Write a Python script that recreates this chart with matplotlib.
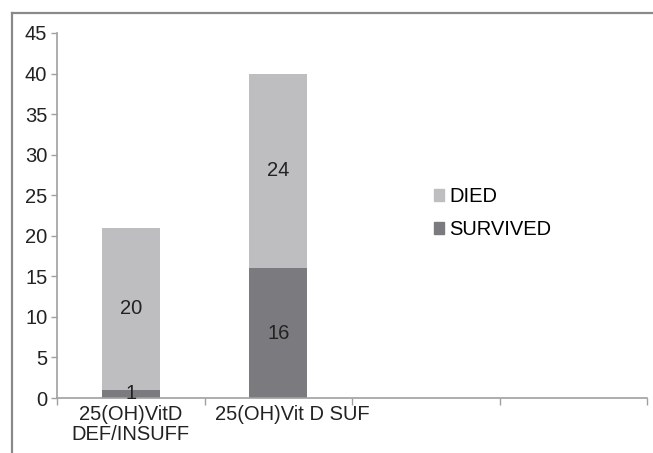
import matplotlib
matplotlib.use('Agg')
import matplotlib.pyplot as plt
import matplotlib.transforms as mtransforms
from matplotlib.patches import Patch
from matplotlib.lines import Line2D
import numpy as np

plt.rcParams['font.family'] = ['Liberation Sans', 'DejaVu Sans']

# Data
categories = ['25(OH)VitD\nDEF/INSUFF', '25(OH)Vit D SUF', '', '']
survived = [1, 16]
died = [20, 24]
y_ticks = [0, 5, 10, 15, 20, 25, 30, 35, 40, 45]

c_died = '#bebec1'
c_surv = '#7b7b7f'
axis_col = '#a0a0a0'
fs = 14.5

fig = plt.figure(figsize=(6.53, 4.53), dpi=100)
ax = fig.add_axes([57/653, 1 - 398/453, 590/653, 365/453])

x = np.arange(len(survived)) + 0.5
w = 0.39
ax.bar(x, survived, w, color=c_surv, label='SURVIVED', edgecolor='none')
ax.bar(x, died, w, bottom=survived, color=c_died, label='DIED', edgecolor='none')

# segment labels
for xi, s, d in zip(x, survived, died):
    ax.text(xi, s / 2, str(s), ha='center', va='center', fontsize=fs, color='#222222')
    ax.text(xi, s + d / 2, str(d), ha='center', va='center', fontsize=fs, color='#222222')

ax.set_xlim(0, len(categories))
ax.set_ylim(0, 45)
ax.set_yticks(y_ticks)
ax.tick_params(axis='y', labelsize=fs, colors=axis_col, labelcolor='#222222',
               length=4, width=1, pad=3)

# category boundaries as ticks, labels at centres
ax.set_xticks(np.arange(len(categories) + 1))
ax.set_xticklabels([])
ax.set_xticks(np.arange(len(categories)) + 0.5, minor=True)
ax.set_xticklabels(categories, minor=True, linespacing=1.05)
ax.tick_params(axis='x', which='major', length=5, width=1, colors=axis_col)
ax.tick_params(axis='x', which='minor', length=0, labelsize=fs, labelcolor='#222222', pad=5)
offset = mtransforms.ScaledTranslation(14/100, 0, fig.dpi_scale_trans)
lbl = ax.xaxis.get_minorticklabels()[1]
lbl.set_transform(lbl.get_transform() + offset)

for side in ['top', 'right']:
    ax.spines[side].set_visible(False)
for side in ['left', 'bottom']:
    ax.spines[side].set_color(axis_col)
    ax.spines[side].set_linewidth(1.2)

handles = [Patch(color=c_died, label='DIED'), Patch(color=c_surv, label='SURVIVED')]
fig.legend(handles=handles, loc='center left', bbox_to_anchor=(434/653, 1 - 213/453),
           frameon=False, fontsize=fs, handlelength=0.5, handleheight=0.5,
           handletextpad=0.25, labelspacing=0.7, borderpad=0, borderaxespad=0)

# outer frame (partially cut off)
fig.add_artist(Line2D([12/653, 1], [1 - 13/453, 1 - 13/453], color='#8a8a8a', lw=1.6))
fig.add_artist(Line2D([12/653, 12/653], [0, 1 - 13/453], color='#8a8a8a', lw=1.6))

fig.savefig('out.png', dpi=100)
